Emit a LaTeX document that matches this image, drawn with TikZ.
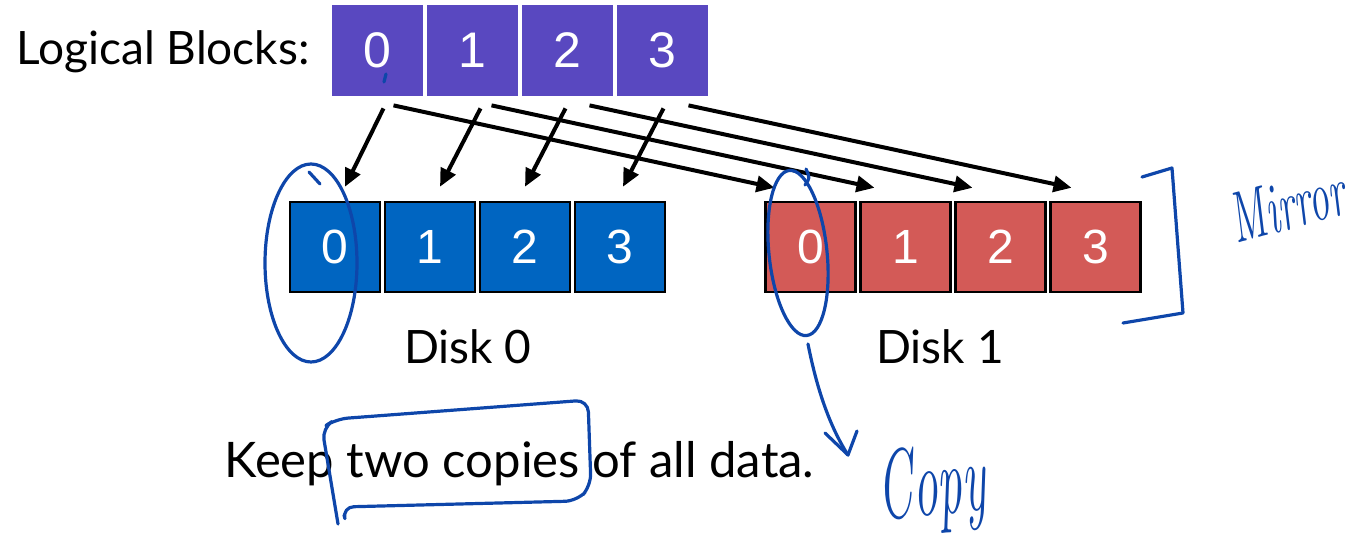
\documentclass[tikz,border=0pt]{standalone}
\usepackage{fontspec}
\usepackage{tikz}
\usetikzlibrary{shapes.geometric,arrows.meta,calc}
\newfontfamily\gillfont{Lato}
\newfontfamily\digitfont{Liberation Sans}
\definecolor{lpurple}{RGB}{89,72,192}
\definecolor{dblue}{RGB}{0,101,193}
\definecolor{dred}{RGB}{211,90,87}
\definecolor{ink}{RGB}{14,70,170}
\tikzstyle{lblock} = [rectangle, minimum size=45.5pt, inner sep=0pt, fill=lpurple, text=white, font=\fontsize{25}{25}\selectfont\digitfont]
\tikzstyle{dblock} = [rectangle, minimum size=45pt, inner sep=0pt, draw=black, line width=1.25pt, fill=dblue, text=white, font=\fontsize{24}{24}\selectfont\digitfont]
\tikzstyle{mblock} = [dblock, fill=dred]
\tikzstyle{words} = [inner sep=0pt, font=\fontsize{23}{27}\selectfont\gillfont]
\tikzstyle{arrow} = [line width=2pt, -{Triangle[length=9pt,width=8pt]}]
\tikzstyle{pen} = [draw=ink, line width=1.6pt, line cap=round, line join=round]
\tikzstyle{hand} = [text=ink, inner sep=0pt, font=\fontsize{24}{24}\selectfont\itshape]

\begin{document}
\begin{tikzpicture}[x=0.5pt,y=-0.5pt,node distance=47.5pt]
\useasboundingbox (0,0) rectangle (1366,550);
% logical blocks
\node (lb0) [lblock] at (377.5,50.5) {0};
\node (lb1) [lblock, right of=lb0] {1};
\node (lb2) [lblock, right of=lb1] {2};
\node (lb3) [lblock, right of=lb2] {3};
\node (lbtext) [words, anchor=base east] at (310,65) {Logical Blocks:};

% disk 0 and disk 1
\node (da0) [dblock] at (335,247) {0};
\node (da1) [dblock, right of=da0] {1};
\node (da2) [dblock, right of=da1] {2};
\node (da3) [dblock, right of=da2] {3};
\node (db0) [mblock] at (810.5,247) {0};
\node (db1) [mblock, right of=db0] {1};
\node (db2) [mblock, right of=db1] {2};
\node (db3) [mblock, right of=db2] {3};
\node (disk0) [words, anchor=base] at (468,364) {Disk 0};
\node (disk1) [words, anchor=base] at (940,364) {Disk 1};
\node (keep) [words, font=\fontsize{24.5}{28}\selectfont\gillfont, anchor=base west] at (224,478) {Keep two copies of all data.};

% every block goes to both disks
\foreach \i/\sa/\ta in {0/6/10,1/8/10,2/-2/0,3/1/3}
  \draw[arrow] ($(lb\i.south)+(\sa,12)$) -- ($(da\i.north)+(\ta,-14)$);
\foreach \i/\sb/\tb in {0/16/-36,1/19/-31,2/22/-28,3/26/-24}
  \draw[arrow] ($(lb\i.south)+(\sb,9)$) -- ($(db\i.north)+(\tb,-13)$);

% pen notes
\draw[pen] (386,74) -- (384,82);
\draw[pen] (311,263) ellipse [x radius=46, y radius=99];
\draw[pen] (309,172) -- (320,184);
\draw[pen, rotate around={6:(798,253)}] (798,253) ellipse [x radius=29, y radius=83];
\draw[pen] (805,185) .. controls (810,178) .. (806,169);
\draw[pen] (1142,177) -- (1172,168) -- (1183,313) -- (1123,323);
\node (mirror) [hand, rotate=15, xscale=0.85, yscale=1.5] at (1287,205) {\addfontfeatures{LetterSpace=8}Mirror};
\draw[pen, rounded corners=6] (338,524) -- (322,428) -- (336,419) -- (588,400) -- (591,486) -- (577,501) -- (342,507) -- (344,515);
\coordinate (cstart) at (808,344);
\coordinate (ctip) at (848,455);
\draw[pen] (cstart) .. controls (818,395) and (832,430) .. (ctip);
\draw[pen] (825,433) -- (ctip) -- (857,431);
\node (copy) [hand, font=\fontsize{26}{26}\selectfont\itshape, rotate=5, xscale=0.95, yscale=1.9] at (932,490) {Copy};
\end{tikzpicture}
\end{document}
